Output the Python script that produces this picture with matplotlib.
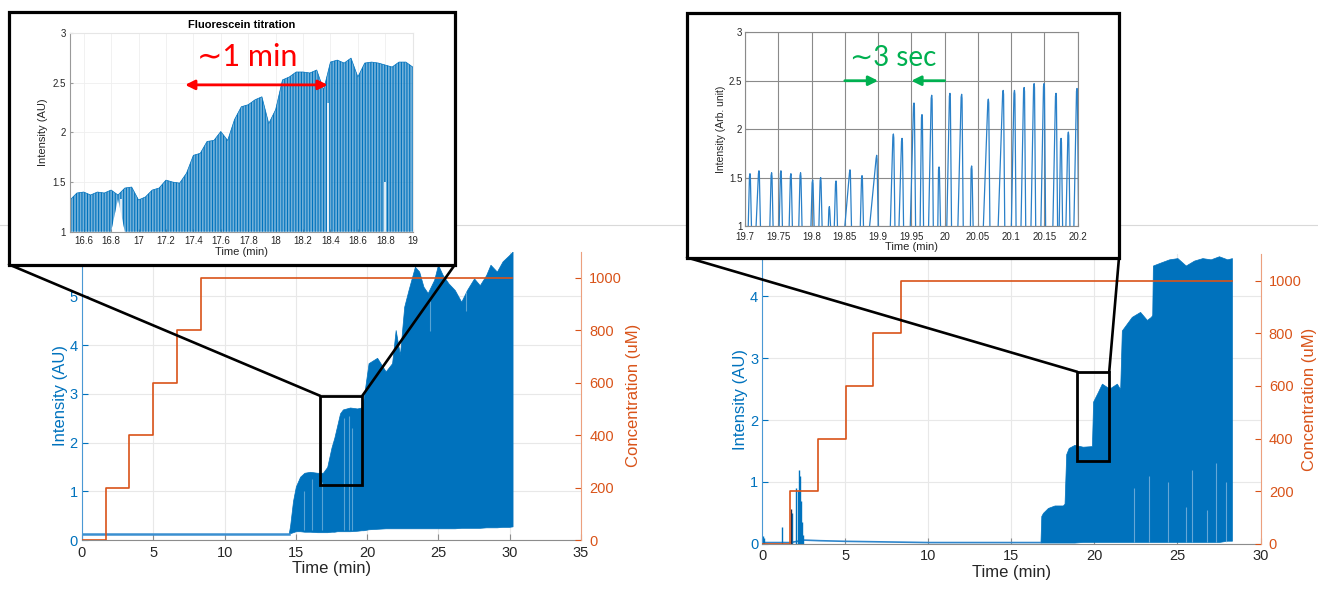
import numpy as np
import matplotlib.pyplot as plt
from matplotlib.patches import Rectangle, ConnectionPatch
from matplotlib.lines import Line2D

plt.rcParams['font.family'] = ['Liberation Sans', 'DejaVu Sans']
plt.rcParams['hatch.linewidth'] = 0.8

BLUE = '#0072BD'
ORANGE = '#D95319'
W, H = 1318, 589

# ---------------- data: left panel (main) ----------------
conc_t_left = [0, 1.65, 3.3, 5.0, 6.65, 8.33, 30.15]
conc_v = [0, 200, 400, 600, 800, 1000, 1000]

base_t_left = [0, 14.5]
base_v_left = [0.13, 0.13]

env_t_left = [14.5, 14.6, 14.8, 15.0, 15.3, 15.6, 16.0, 16.5, 16.9, 17.2,
              17.5, 17.7, 17.9, 18.1, 18.3, 18.8, 19.3, 19.6, 19.75, 20.1,
              20.7, 21.3, 21.75, 22.0, 22.3, 22.6, 22.9, 23.35, 23.65, 23.95,
              24.25, 24.7, 24.97, 25.3, 25.7, 26.15, 26.6, 27.0, 27.5, 27.9,
              28.35, 28.65, 29.1, 29.5, 29.97, 30.2]
env_hi_left = [0.13, 0.3, 0.8, 1.1, 1.3, 1.38, 1.4, 1.38, 1.38, 1.5,
               1.9, 2.1, 2.35, 2.6, 2.68, 2.72, 2.7, 2.72, 2.9, 3.63,
               3.74, 3.46, 3.63, 4.31, 3.8, 4.79, 5.13, 5.61, 5.51, 5.2,
               5.07, 5.34, 5.65, 5.44, 5.27, 5.13, 4.89, 5.13, 5.37, 5.23,
               5.44, 5.65, 5.51, 5.72, 5.85, 5.92]
env_lo_left = [0.13, 0.14, 0.16, 0.18, 0.18, 0.17, 0.17, 0.16, 0.16, 0.16,
               0.17, 0.17, 0.18, 0.18, 0.18, 0.18, 0.19, 0.2, 0.2, 0.22,
               0.23, 0.24, 0.24, 0.24, 0.24, 0.24, 0.24, 0.24, 0.24, 0.24,
               0.24, 0.24, 0.24, 0.24, 0.24, 0.24, 0.25, 0.25, 0.25, 0.25,
               0.26, 0.26, 0.26, 0.27, 0.27, 0.28]
gap_t_left = [15.55, 16.15, 16.8, 18.35, 18.75, 18.95, 24.4, 26.9]
gap_lo_left = [0.2, 0.2, 0.2, 0.2, 0.2, 0.2, 4.3, 4.7]
gap_hi_left = [1.0, 1.25, 1.2, 2.5, 2.55, 2.3, 4.9, 5.1]

# ---------------- data: right panel (main) ----------------
conc_t_right = [0, 1.67, 3.33, 5.02, 6.66, 8.34, 28.28]

base_t_right = [0, 1.7, 2.5, 3.5, 5, 10, 16.75]
base_v_right = [0.02, 0.02, 0.06, 0.05, 0.04, 0.02, 0.02]
spike_t_right = [0.05, 0.1, 1.17, 1.76, 2.05, 2.12, 2.2, 2.27, 2.33, 2.38, 2.45]
spike_h_right = [0.12, 0.1, 0.27, 0.5, 0.9, 0.85, 1.19, 1.1, 0.7, 0.35, 0.15]
dark_spike_t = [1.71]
dark_spike_h = [0.57]

env_t_right = [16.75, 16.8, 16.9, 17.2, 17.6, 18.1, 18.2, 18.3, 18.45, 18.8,
               19.3, 19.85, 19.92, 20.2, 20.45, 20.9, 21.35, 21.55, 21.65, 21.95,
               22.25, 22.75, 23.16, 23.4, 23.48, 23.52, 24.0, 24.5, 25.0, 25.5,
               26.0, 26.5, 27.0, 27.5, 28.0, 28.28]
env_hi_right = [0.02, 0.45, 0.5, 0.58, 0.62, 0.62, 0.65, 1.45, 1.55, 1.6,
                1.57, 1.58, 2.3, 2.45, 2.59, 2.51, 2.59, 2.5, 3.45, 3.56,
                3.67, 3.75, 3.62, 3.67, 3.7, 4.5, 4.55, 4.6, 4.62, 4.5,
                4.58, 4.62, 4.6, 4.65, 4.6, 4.62]
env_lo_right = [0.02] * 10 + [0.03] * 24 + [0.05, 0.05]
light_t_right = [22.4, 23.3, 24.4, 25.5, 25.9, 26.8, 27.3, 27.9]
light_h_right = [0.9, 1.1, 1.0, 0.6, 1.2, 0.55, 1.3, 1.0]

# ---------------- data: left inset ----------------
in1_t = [16.5, 16.55, 16.6, 16.65, 16.7, 16.75, 16.8, 16.85, 16.9, 16.95,
         17.0, 17.05, 17.1, 17.15, 17.2, 17.25, 17.3, 17.35, 17.4, 17.45,
         17.5, 17.55, 17.6, 17.65, 17.7, 17.75, 17.8, 17.85, 17.9, 17.95,
         18.0, 18.05, 18.1, 18.15, 18.2, 18.25, 18.3, 18.35, 18.4, 18.45,
         18.5, 18.55, 18.6, 18.65, 18.7, 18.75, 18.8, 18.85, 18.9, 18.95, 19.0]
in1_hi = [1.32, 1.39, 1.40, 1.37, 1.40, 1.39, 1.42, 1.37, 1.44, 1.45,
          1.32, 1.35, 1.42, 1.44, 1.52, 1.50, 1.49, 1.59, 1.77, 1.79,
          1.91, 1.92, 2.01, 1.92, 2.13, 2.26, 2.28, 2.33, 2.36, 2.09,
          2.23, 2.53, 2.56, 2.61, 2.61, 2.60, 2.63, 2.43, 2.71, 2.73,
          2.70, 2.75, 2.56, 2.70, 2.71, 2.70, 2.68, 2.66, 2.71, 2.71, 2.66]
in1_lo = [1.0] * 7 + [1.33] + [1.0] * 43
in1_gap_t = [16.87, 18.385, 18.8]
in1_gap_lo = [1.0, 1.0, 1.0]
in1_gap_hi = [1.33, 2.3, 1.5]
in1_xticks = [16.6, 16.8, 17, 17.2, 17.4, 17.6, 17.8, 18, 18.2, 18.4, 18.6, 18.8, 19]
in1_yticks = [1, 1.5, 2, 2.5, 3]

# ---------------- data: right inset (individual peaks) ----------------
pk_t = [19.7075, 19.721, 19.740, 19.754, 19.769, 19.7835, 19.8017, 19.8137,
        19.8268, 19.8368, 19.8578, 19.8759, 19.8979, 19.923, 19.936, 19.954,
        19.966, 19.9806, 19.9916, 20.008, 20.0256, 20.0406, 20.0657, 20.088,
        20.105, 20.1195, 20.1345, 20.1494, 20.1674, 20.175, 20.186, 20.199]
pk_h = [1.54, 1.57, 1.55, 1.57, 1.54, 1.55, 1.475, 1.50,
        1.20, 1.465, 1.58, 1.52, 1.73, 1.95, 1.905, 2.27,
        2.15, 2.35, 1.61, 2.37, 2.36, 1.62, 2.31, 2.40,
        2.40, 2.43, 2.47, 2.47, 2.37, 1.905, 1.97, 2.42]
pk_rise = [0.003, 0.005, 0.003, 0.003, 0.003, 0.003, 0.003, 0.003,
           0.002, 0.003, 0.009, 0.003, 0.012, 0.005, 0.005, 0.006,
           0.003, 0.005, 0.002, 0.005, 0.006, 0.002, 0.008, 0.008,
           0.005, 0.005, 0.005, 0.005, 0.005, 0.003, 0.004, 0.005]
in2_xticks = [19.7, 19.75, 19.8, 19.85, 19.9, 19.95, 20, 20.05, 20.1, 20.15, 20.2]
in2_yticks = [1, 1.5, 2, 2.5, 3]


def fx(px):
    return px / W


def fy(py):
    return 1 - py / H


fig = plt.figure(figsize=(W / 100, H / 100), dpi=100)

# faint slide separator
fig.add_artist(Line2D([0, 1], [fy(225), fy(225)], color='#d9d9d9', lw=0.8, zorder=1))


def style_main(ax, axr, rpad):
    ax.grid(True, color='#e8e8e8', lw=0.8)
    ax.set_axisbelow(True)
    for s in ['top', 'right']:
        ax.spines[s].set_visible(False)
    ax.spines['left'].set_color('#4a98d4')
    ax.spines['left'].set_linewidth(0.8)
    ax.spines['bottom'].set_color('#8c8c8c')
    ax.tick_params(axis='y', colors=BLUE, direction='in', length=4, labelsize=10.5, pad=3)
    ax.tick_params(axis='x', colors='#8c8c8c', labelcolor='#262626', direction='in',
                   length=4, labelsize=10.5, pad=4)
    for s in ['top', 'left', 'bottom']:
        axr.spines[s].set_visible(False)
    axr.spines['right'].set_color('#eca07e')
    axr.spines['right'].set_linewidth(0.8)
    axr.tick_params(axis='y', colors=ORANGE, direction='in', length=4, labelsize=10.5, pad=6)
    ax.set_xlabel('Time (min)', fontsize=12, color='#262626', labelpad=1)
    ax.set_ylabel('Intensity (AU)', fontsize=12, color=BLUE, labelpad=1)
    axr.set_ylabel('Concentration (uM)', fontsize=12, color=ORANGE, labelpad=rpad)
    axr.set_ylim(0, 1100)
    axr.set_yticks([0, 200, 400, 600, 800, 1000])


# ---------------- left main ----------------
axL = fig.add_axes([fx(82), fy(540), fx(581 - 82), (540 - 251.6) / H])
axLr = axL.twinx()
axL.plot(base_t_left, base_v_left, color='#3a8fd0', lw=1.8)
axL.fill_between(env_t_left, env_lo_left, env_hi_left, color=BLUE, lw=0.5)
axL.vlines(gap_t_left, gap_lo_left, gap_hi_left, color='white', alpha=0.35, lw=0.8)
axLr.step(conc_t_left, conc_v, where='post', color=ORANGE, lw=1.2)
axL.set_xlim(0, 35)
axL.set_ylim(0, 5.92)
axL.set_xticks([0, 5, 10, 15, 20, 25, 30, 35])
axL.set_yticks([0, 1, 2, 3, 4, 5])
style_main(axL, axLr, 3)
axL.add_patch(Rectangle((16.7, 1.13), 2.96, 1.83, fill=False, ec='black', lw=2, zorder=5))

# ---------------- right main ----------------
axR = fig.add_axes([fx(762.3), fy(543.8), fx(1260.5 - 762.3), (543.8 - 254.4) / H])
axRr = axR.twinx()
axR.plot(base_t_right, base_v_right, color='#2f86cc', lw=1.2)
axR.vlines(spike_t_right, 0, spike_h_right, color=BLUE, lw=1.0)
axR.vlines(dark_spike_t, 0, dark_spike_h, color='#1f2f4f', lw=1.0)
axR.fill_between(env_t_right, env_lo_right, env_hi_right, color=BLUE, lw=0.5)
axR.vlines(light_t_right, 0.03, light_h_right, color='#a9cbea', alpha=0.6, lw=0.8)
axRr.step(conc_t_right, conc_v, where='post', color=ORANGE, lw=1.2)
axR.set_xlim(0, 30)
axR.set_ylim(0, 4.68)
axR.set_xticks([0, 5, 10, 15, 20, 25, 30])
axR.set_yticks([0, 1, 2, 3, 4])
style_main(axR, axRr, 0)
axR.add_patch(Rectangle((18.98, 1.34), 1.91, 1.44, fill=False, ec='black', lw=2, zorder=5))

# ---------------- inset frames + connectors ----------------
frames = [(9, 12.5, 455, 264.5), (687, 12.7, 1119, 257.5)]
for x0, y0, x1, y1 in frames:
    fig.add_artist(Rectangle((fx(x0), fy(y1)), fx(x1 - x0), (y1 - y0) / H,
                             transform=fig.transFigure, fc='white', ec='black',
                             lw=2.3, zorder=5))

links = [((9, 264.5), axL, (16.7, 2.96)), ((455, 264.5), axL, (19.66, 2.96)),
         ((687, 257.5), axR, (18.98, 2.78)), ((1119, 257.5), axR, (20.89, 2.78))]
for (px, py), ax, xy in links:
    con = ConnectionPatch(xyA=(fx(px), fy(py)), coordsA=fig.transFigure,
                          xyB=xy, coordsB=ax.transData, color='black', lw=1.9, zorder=4)
    fig.add_artist(con)

# ---------------- left inset ----------------
ax1 = fig.add_axes([fx(70), fy(231.7), fx(412.7 - 70), (231.7 - 33.3) / H], zorder=6)
ax1.fill_between(in1_t, in1_lo, in1_hi, facecolor=(0.0, 0.447, 0.741, 0.55),
                 edgecolor=BLUE, hatch='||||||', lw=0)
ax1.plot(in1_t, in1_hi, color=BLUE, lw=0.5)
ax1.vlines(in1_gap_t, in1_gap_lo, in1_gap_hi, color='white', lw=1.2)
ax1.set_xlim(16.5, 19)
ax1.set_ylim(1, 3)
ax1.set_xticks(in1_xticks)
ax1.set_xticklabels(['%g' % v for v in in1_xticks])
ax1.set_yticks(in1_yticks)
ax1.set_yticklabels(['%g' % v for v in in1_yticks])
ax1.grid(True, color='#efefef', lw=0.6)
ax1.set_axisbelow(True)
for s in ['top', 'right']:
    ax1.spines[s].set_color('#e6e6e6')
for s in ['left', 'bottom']:
    ax1.spines[s].set_color('#9a9a9a')
ax1.tick_params(colors='#9a9a9a', labelcolor='#262626', direction='in', length=2,
                labelsize=7, pad=3)
ax1.set_xlabel('Time (min)', fontsize=8, color='#262626', labelpad=1)
ax1.set_ylabel('Intensity (AU)', fontsize=8, color='#262626', labelpad=3)
ax1.set_title('Fluorescein titration', fontsize=8, fontweight='bold', pad=4)
ax1.annotate('', xy=(17.34, 2.48), xytext=(18.38, 2.48),
             arrowprops=dict(arrowstyle='<|-|>', color='red', lw=2, mutation_scale=14,
                             shrinkA=0, shrinkB=0))
ax1.text(17.79, 2.76, '\u223c1 min', color='red', fontsize=22, ha='center', va='center',
         family=['Lato', 'DejaVu Sans'])

# ---------------- right inset ----------------
ax2 = fig.add_axes([fx(745), fy(226), fx(1077.7 - 745), (226 - 32.3) / H], zorder=6)
xs, ys = [], []
for t, h, r in zip(pk_t, pk_h, pk_rise):
    # rounded spike: foot, near-top, top, near-top, foot
    xs += [t - r, t - 0.0008, t, t + 0.0006, t + 0.0025, np.nan]
    ys += [0.9, h - 0.03, h, h - 0.04, 0.9, np.nan]
ax2.plot(xs, ys, color='#2a80c8', lw=0.9)
ax2.set_xlim(19.7, 20.2)
ax2.set_ylim(1, 3)
ax2.set_xticks(in2_xticks)
ax2.set_xticklabels(['%g' % v for v in in2_xticks])
ax2.set_yticks(in2_yticks)
ax2.set_yticklabels(['%g' % v for v in in2_yticks])
ax2.grid(True, color='#8a8a8a', lw=0.8)
ax2.set_axisbelow(True)
for s in ax2.spines.values():
    s.set_color('#8a8a8a')
ax2.tick_params(colors='#8a8a8a', labelcolor='#262626', direction='in', length=2,
                labelsize=7, pad=2)
ax2.tick_params(axis='x', pad=4)
ax2.set_xlabel('Time (min)', fontsize=8, color='#262626', labelpad=0)
ax2.set_ylabel('Intensity (Arb. unit)', fontsize=7.5, color='#262626', labelpad=2)
arrow_kw = dict(arrowstyle='-|>', color='#00B050', lw=2, mutation_scale=14, shrinkA=0, shrinkB=0)
ax2.annotate('', xy=(19.9, 2.5), xytext=(19.85, 2.5), arrowprops=arrow_kw)
ax2.annotate('', xy=(19.95, 2.5), xytext=(20.0, 2.5), arrowprops=arrow_kw)
ax2.text(19.922, 2.735, '\u223c3 sec', color='#00B050', fontsize=20, ha='center', va='center',
         family=['Lato', 'DejaVu Sans'])

fig.savefig('out.png', dpi=100)
